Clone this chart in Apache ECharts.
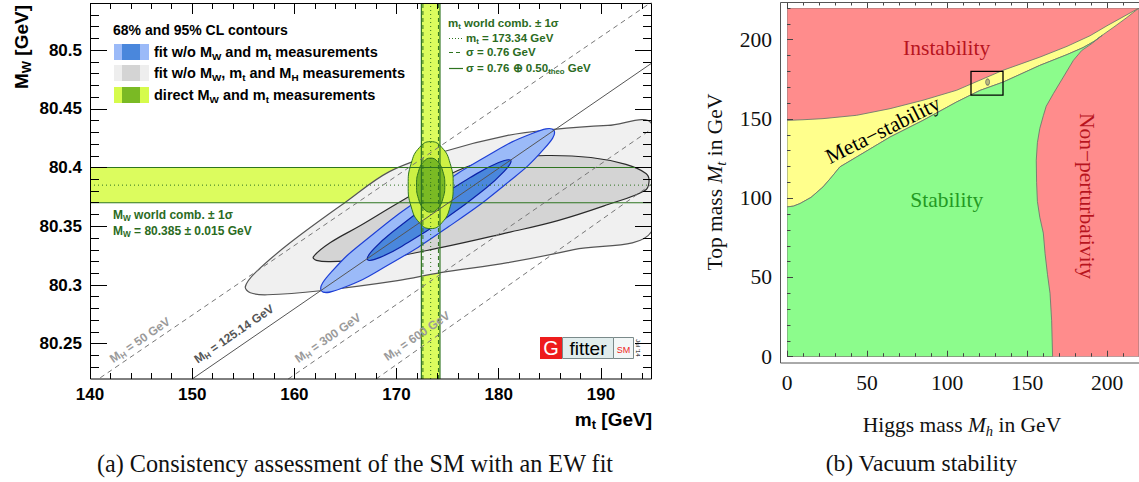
<!DOCTYPE html>
<html><head><meta charset="utf-8">
<script src="https://cdn.jsdelivr.net/npm/echarts@6/dist/echarts.min.js"></script>
<style>html,body{margin:0;padding:0;background:#fff;}#c{width:1139px;height:482px;}</style>
</head><body><div id="c"></div>
<script>
// ================= Panel (a): EW fit =================
const mtTickValues = [140, 150, 160, 170, 180, 190];
const mtMinorTickValues = [142,144,146,148,152,154,156,158,162,164,166,168,172,174,176,178,182,184,186,188,192,194];
const mwTickValues = [80.25, 80.3, 80.35, 80.4, 80.45, 80.5];
const mwMinorTickValues = [80.23,80.24,80.26,80.27,80.28,80.29,80.31,80.32,80.33,80.34,80.36,80.37,80.38,80.39,80.41,80.42,80.43,80.44,80.46,80.47,80.48,80.49,80.51,80.52,80.53];

const mwBandEdges = [80.370, 80.400];
const mwCentral = 80.385;
const mtBandEdgesTotal = [172.43, 174.25];
const mtBandEdgesExp = [172.58, 174.10];
const mtCentral = 173.34;

// 68%/95% CL contours (mt, MW)
const contourGrayOuter = [[155.20,80.2985],[156.18,80.3105],[159.61,80.3361],[165.00,80.3705],[169.30,80.3965],[174.31,80.4128],[180.88,80.4273],[185.39,80.4324],[190.69,80.4358],[195.0,80.4367],[195.0,80.3460],[187.35,80.3301],[180.88,80.3190],[174.31,80.3105],[170.10,80.3037],[162.55,80.2951],[157.35,80.2917],[155.69,80.2934]];
const contourGrayInner = [[161.86,80.3240],[163.53,80.3361],[166.47,80.3506],[169.90,80.3685],[173.33,80.3855],[177.25,80.4017],[181.18,80.4077],[184.61,80.4102],[189.02,80.4085],[192.45,80.4026],[194.41,80.3949],[194.71,80.3881],[194.31,80.3804],[190.69,80.3685],[185.78,80.3548],[180.88,80.3446],[174.31,80.3318],[168.43,80.3224],[163.53,80.3199],[162.16,80.3210]];
const contourBlueOuter = [[185.40,80.4316],[184.41,80.4156],[180.65,80.3856],[175.11,80.3497],[169.26,80.3174],[164.71,80.2974],[162.64,80.2951],[163.63,80.3111],[167.39,80.3411],[172.93,80.3770],[178.77,80.4093],[183.33,80.4292]];
const contourBlueInner = [[181.18,80.4060],[180.53,80.3967],[178.18,80.3785],[174.75,80.3564],[171.17,80.3363],[168.39,80.3235],[167.16,80.3216],[167.80,80.3309],[170.16,80.3490],[173.58,80.3711],[177.17,80.3912],[179.94,80.4040]];
const contourGreenOuter = [[175.54,80.385],[175.245,80.4035],[174.44,80.417],[173.34,80.422],[172.24,80.417],[171.435,80.4035],[171.14,80.385],[171.435,80.3665],[172.24,80.353],[173.34,80.348],[174.44,80.353],[175.245,80.3665]];
const contourGreenInner = [[174.72,80.385],[174.535,80.3965],[174.03,80.4049],[173.34,80.408],[172.65,80.4049],[172.145,80.3965],[171.96,80.385],[172.145,80.3735],[172.65,80.3651],[173.34,80.362],[174.03,80.3651],[174.535,80.3735]];

// SM prediction lines for fixed M_H
const isolineMH50  = [[141.0, 80.221], [195.0, 80.541]];
const isolineMH125 = [[150.0, 80.220], [195.0, 80.489]];
const isolineMH300 = [[159.4, 80.220], [195.0, 80.433]];
const isolineMH600 = [[168.0, 80.220], [195.0, 80.386]];

// ================= Panel (b): vacuum stability =================
const mhTickValues = [0, 50, 100, 150, 200];
const mhMinorTickValues = [10,20,30,40,60,70,80,90,110,120,130,140,160,170,180,190,210,220];
const mtopTickValues = [0, 50, 100, 150, 200];
const mtopMinorTickValues = [10,20,30,40,60,70,80,90,110,120,130,140,160,170,180,190,210,220];

const instabilityBoundary = [[0,149.1],[10,149.5],[22.5,150.2],[43.5,152.3],[64.4,156.5],[85,161.8],[106,168.1],[120,174.2],[135,180.7],[158,189.0],[175,195.8],[189.4,202.5],[200,208.8],[210,214.4],[220,220]];
const metaStabilityBoundary = [[0,94.5],[4,95.0],[8.1,96.6],[15,100.5],[22.5,107.1],[28,113.5],[33,119.7],[43.5,126.0],[64.4,138.6],[85,149.1],[106,160.7],[120.6,168.0],[135.2,173.3],[158,183.8],[175,190.6],[185,195.0],[192,199.0],[198,203.5],[205,208.5],[212,213.7],[220,220]];
const perturbativityBoundary = [[197,202.8],[190,197.2],[184.2,193.2],[179,187],[172.7,176.4],[166.5,166],[162,158],[160.2,152],[158,144],[156.5,135],[155.8,124],[156,110],[156.5,98],[158,88],[160.2,78],[161.3,65],[162.8,52],[164.4,40],[165.4,23],[166,0]];
const measuredPoint = [[125.4, 173.3]];
const zoomBox = [[115,165],[135,165],[135,180],[115,180]];
const plotRange = [[0,0],[220,0],[220,220],[0,220]];

// ---------------------------------------------------------------
const SANS = "'Liberation Sans', Arial, Helvetica, sans-serif";
const SERIF = "'Liberation Serif', 'Times New Roman', serif";

function rich(F, weight, fill, family) {
  const s = Math.round(F * 0.68 * 10) / 10;
  return {
    m: {fontFamily: family, fontSize: F, fontWeight: weight, fill: fill, color: fill, lineHeight: Math.round(F * 1.25)},
    s: {fontFamily: family, fontSize: s, fontWeight: weight, fill: fill, color: fill, lineHeight: s, verticalAlign: 'bottom'},
    i: {fontFamily: family, fontSize: F, fontWeight: weight, fontStyle: 'italic', fill: fill, color: fill, lineHeight: Math.round(F * 1.25)},
    is: {fontFamily: family, fontSize: s, fontWeight: weight, fontStyle: 'italic', fill: fill, color: fill, lineHeight: s, verticalAlign: 'bottom'}
  };
}
function txt(x, y, text, F, weight, fill, family, align, rot, z) {
  return {type: 'text', x: x, y: y, rotation: rot || 0, z: z || 50, silent: true,
    style: {text: text, rich: rich(F, weight, fill, family), fontFamily: family, fontSize: F, fontWeight: weight, fill: fill,
      align: align || 'left', verticalAlign: 'middle', textAlign: align || 'left', textVerticalAlign: 'middle'}};
}
function rect(x, y, w, h, fill, stroke, lw, z) {
  return {type: 'rect', z: z || 50, silent: true, shape: {x: x, y: y, width: w, height: h},
    style: {fill: fill || 'none', stroke: stroke || null, lineWidth: lw || 0}};
}
function seg(x1, y1, x2, y2, stroke, lw, dash, z) {
  return {type: 'line', z: z || 50, silent: true, shape: {x1: x1, y1: y1, x2: x2, y2: y2},
    style: {stroke: stroke, lineWidth: lw, lineDash: dash || null}};
}

function polySeries(points, xi, yi, fill, stroke, lw, smooth, z, dash) {
  return {
    type: 'custom', xAxisIndex: xi, yAxisIndex: yi, clip: true, silent: true, z: z, animation: false,
    data: [points[0]],
    renderItem: function (params, api) {
      return {type: 'polygon', shape: {points: points.map(function (p) { return api.coord(p); }), smooth: smooth || 0},
        style: {fill: fill, stroke: stroke, lineWidth: lw, lineDash: dash || null}};
    }
  };
}
function lineSeries(points, xi, yi, color, width, type, z) {
  return {type: 'line', xAxisIndex: xi, yAxisIndex: yi, data: points, showSymbol: false, symbol: 'none',
    silent: true, z: z, animation: false, clip: true, lineStyle: {color: color, width: width, type: type || 'solid'}};
}

function axis(gridIndex, position, min, max, ticks, len, color, extra) {
  return Object.assign({
    type: 'value', gridIndex: gridIndex, position: position, min: min, max: max, z: 20, silent: true,
    splitLine: {show: false}, axisLine: {show: false},
    axisTick: {show: true, inside: true, length: len, customValues: ticks, lineStyle: {color: color, width: 1}},
    axisLabel: {show: false}
  }, extra || {});
}

const labA = function (F) { return {show: true, fontFamily: SANS, fontWeight: 'bold', fontSize: F, color: '#000'}; };
const labB = {show: true, fontFamily: SERIF, fontSize: 21.5, color: '#111'};

const xAxes = [
  axis(0, 'bottom', 140, 195, mtTickValues, 11, '#000', {axisLabel: Object.assign(labA(17), {customValues: mtTickValues, margin: 7})}),
  axis(0, 'bottom', 140, 195, mtMinorTickValues, 6, '#000'),
  axis(0, 'top', 140, 195, mtTickValues, 11, '#000'),
  axis(0, 'top', 140, 195, mtMinorTickValues, 6, '#000'),
  axis(1, 'bottom', 0, 220, mhTickValues, 6, '#444', {offset: 6, axisLabel: Object.assign({}, labB, {customValues: mhTickValues, margin: 9})}),
  axis(1, 'bottom', 0, 220, mhMinorTickValues, 3.5, '#444', {offset: 6}),
  axis(1, 'top', 0, 220, mhTickValues, 6, '#444', {offset: 6}),
  axis(1, 'top', 0, 220, mhMinorTickValues, 3.5, '#444', {offset: 6})
];
const yAxes = [
  axis(0, 'left', 80.22, 80.54, mwTickValues, 17, '#000', {axisLabel: Object.assign(labA(17), {customValues: mwTickValues, margin: 8})}),
  axis(0, 'left', 80.22, 80.54, mwMinorTickValues, 9, '#000'),
  axis(0, 'right', 80.22, 80.54, mwTickValues, 17, '#000'),
  axis(0, 'right', 80.22, 80.54, mwMinorTickValues, 9, '#000'),
  axis(1, 'left', 0, 220, mtopTickValues, 6, '#444', {offset: 7, axisLabel: Object.assign({}, labB, {customValues: mtopTickValues, margin: 8})}),
  axis(1, 'left', 0, 220, mtopMinorTickValues, 3.5, '#444', {offset: 7})
];

// colours
const cBand = '#dcfc5e', cGreenOut = '#cdf144', cGreenIn = '#7aba24', cGreenLine = '#2e7420';
const cGrayOut = '#f0f0f0', cGrayIn = '#d4d4d4';
const cBlueOut = '#9bbaf8', cBlueIn = '#4a87dc';
const cTxtGreen = '#2b6b1e';

const series = [
  // bands
  polySeries([[140, mwBandEdges[0]], [195, mwBandEdges[0]], [195, mwBandEdges[1]], [140, mwBandEdges[1]]], 0, 0, cBand, null, 0, 0, 1),
  polySeries([[mtBandEdgesTotal[0], 80.22], [mtBandEdgesTotal[1], 80.22], [mtBandEdgesTotal[1], 80.54], [mtBandEdgesTotal[0], 80.54]], 0, 0, cBand, null, 0, 0, 1),
  // indirect-fit contours
  polySeries(contourGrayOuter, 0, 0, cGrayOut, '#555', 1.2, 0.35, 2),
  polySeries(contourGrayInner, 0, 0, cGrayIn, '#2a2a2a', 1.2, 0.4, 3),
  polySeries(contourBlueOuter, 0, 0, cBlueOut, '#1e3fd6', 1.2, 0.5, 4),
  polySeries(contourBlueInner, 0, 0, cBlueIn, '#0c22a8', 1.2, 0.5, 5),
  // direct measurements
  polySeries(contourGreenOuter, 0, 0, cGreenOut, cGreenLine, 1, 0.5, 6),
  polySeries(contourGreenInner, 0, 0, cGreenIn, cGreenLine, 1, 0.5, 7),
  // band lines
  lineSeries([[140, mwBandEdges[0]], [195, mwBandEdges[0]]], 0, 0, cGreenLine, 1.2, 'solid', 8),
  lineSeries([[140, mwBandEdges[1]], [195, mwBandEdges[1]]], 0, 0, cGreenLine, 1.2, 'solid', 8),
  lineSeries([[140, mwCentral], [195, mwCentral]], 0, 0, cGreenLine, 1, [1, 3], 8),
  lineSeries([[mtBandEdgesTotal[0], 80.22], [mtBandEdgesTotal[0], 80.54]], 0, 0, cGreenLine, 1.2, 'solid', 8),
  lineSeries([[mtBandEdgesTotal[1], 80.22], [mtBandEdgesTotal[1], 80.54]], 0, 0, cGreenLine, 1.2, 'solid', 8),
  lineSeries([[mtBandEdgesExp[0], 80.22], [mtBandEdgesExp[0], 80.54]], 0, 0, cGreenLine, 1, [4, 3], 8),
  lineSeries([[mtBandEdgesExp[1], 80.22], [mtBandEdgesExp[1], 80.54]], 0, 0, cGreenLine, 1, [4, 3], 8),
  lineSeries([[mtCentral, 80.22], [mtCentral, 80.54]], 0, 0, cGreenLine, 1, [1, 3], 8),
  // M_H isolines
  lineSeries(isolineMH50, 0, 0, '#777', 1, [5, 4], 9),
  lineSeries(isolineMH125, 0, 0, '#555', 1, 'solid', 9),
  lineSeries(isolineMH300, 0, 0, '#777', 1, [5, 4], 9),
  lineSeries(isolineMH600, 0, 0, '#777', 1, [5, 4], 9),

  // ---- panel (b) ----
  polySeries(plotRange, 4, 4, '#ff8c8c', '#777', 0.8, 0, 2),
  polySeries(instabilityBoundary.concat(metaStabilityBoundary.slice().reverse()), 4, 4, '#ffff8c', '#6e7a6e', 0.9, 0, 3),
  polySeries([[0, 0]].concat(metaStabilityBoundary.filter(function (p) { return p[0] <= 192; }), perturbativityBoundary), 4, 4, '#8cfc8c', '#6e7a6e', 0.9, 0, 4),
  polySeries(zoomBox, 4, 4, 'none', '#000', 1.3, 0, 6),
  {type: 'scatter', xAxisIndex: 4, yAxisIndex: 4, data: measuredPoint, symbol: 'circle', symbolSize: [4, 6], silent: true, z: 7, animation: false,
    itemStyle: {color: '#a8a878', borderColor: '#666', borderWidth: 1}}
];

const gEls = [
  // frames
  rect(90.5, 3.5, 561, 375.5, 'none', '#000', 1, 40),
  rect(780.5, 2.5, 370, 360.5, 'none', '#555', 1, 40),
  // legend panel (a)
  txt(113, 30, '{m|68% and 95% CL contours}', 14, 'bold', '#000', SANS),
  rect(114, 44, 35, 16, cBlueOut), rect(122, 44, 18, 16, cBlueIn),
  rect(114, 65, 35, 16, '#eeeeee'), rect(122, 65, 18, 16, cGrayIn),
  rect(114, 87, 35, 16, '#d6fb4c'), rect(122, 87, 18, 16, cGreenIn),
  txt(154, 52, '{m|fit w/o M}{s|W}{m| and m}{s|t}{m| measurements}', 14.5, 'bold', '#000', SANS),
  txt(154, 73, '{m|fit w/o M}{s|W}{m|, m}{s|t}{m| and M}{s|H}{m| measurements}', 14.5, 'bold', '#000', SANS),
  txt(154, 95, '{m|direct M}{s|W}{m| and m}{s|t}{m| measurements}', 14.5, 'bold', '#000', SANS),
  // mt world average legend
  txt(448, 23, '{m|m}{s|t}{m| world comb. \u00b1 1\u03c3}', 11.5, 'bold', cTxtGreen, SANS),
  seg(449, 38.5, 463, 38.5, cGreenLine, 1, [1, 2]),
  txt(466, 38, '{m|m}{s|t}{m| = 173.34 GeV}', 11.5, 'bold', cTxtGreen, SANS),
  seg(449, 52.5, 463, 52.5, cGreenLine, 1, [4, 3]),
  txt(466, 52, '{m|\u03c3 = 0.76 GeV}', 11.5, 'bold', cTxtGreen, SANS),
  seg(449, 68.5, 463, 68.5, cGreenLine, 1.2),
  txt(466, 68, '{m|\u03c3 = 0.76 \u2295 0.50}{s|theo}{m| GeV}', 11.5, 'bold', cTxtGreen, SANS),
  // MW world average legend
  txt(113, 215, '{m|M}{s|W}{m| world comb. \u00b1 1\u03c3}', 12, 'bold', cTxtGreen, SANS),
  txt(113, 231, '{m|M}{s|W}{m| = 80.385 \u00b1 0.015 GeV}', 12, 'bold', cTxtGreen, SANS),
  // isoline labels
  txt(140, 340, '{m|M}{s|H}{m| = 50 GeV}', 12, 'bold', '#9a9a9a', SANS, 'center', 0.604),
  txt(234, 334, '{m|M}{s|H}{m| = 125.14 GeV}', 12, 'bold', '#555', SANS, 'center', 0.604),
  txt(328, 338, '{m|M}{s|H}{m| = 300 GeV}', 12, 'bold', '#9a9a9a', SANS, 'center', 0.604),
  txt(417, 336, '{m|M}{s|H}{m| = 600 GeV}', 12, 'bold', '#9a9a9a', SANS, 'center', 0.604),
  // axis titles (a)
  txt(21, 47, '{m|M}{s|W}{m| [GeV]}', 19, 'bold', '#000', SANS, 'center', Math.PI / 2),
  txt(652, 419, '{m|m}{s|t}{m| [GeV]}', 19, 'bold', '#000', SANS, 'right'),
  // Gfitter logo
  rect(540, 337, 22, 22, '#ee1c1c', null, 0, 45),
  txt(551, 348, '{m|G}', 20, 'normal', '#fff', SANS, 'center', 0, 46),
  rect(562.5, 337.5, 51, 21, '#e1eded', '#7a8a8a', 1, 45),
  txt(588, 348, '{m|fitter}', 19, 'normal', '#000', SANS, 'center', 0, 46),
  rect(613.5, 337.5, 20, 21, '#f3f7f7', '#7a8a8a', 1, 45),
  txt(623.5, 350, '{m|SM}', 9, 'normal', '#ee1c1c', SANS, 'center', 0, 46),
  txt(638, 348, '{m|Jul \u201914}', 6, 'normal', '#000', SANS, 'center', -Math.PI / 2, 46),
  // panel (b) texts
  txt(946.7, 48.3, '{m|Instability}', 21.5, 'normal', '#b8141e', SERIF, 'center'),
  txt(946.7, 200, '{m|Stability}', 21.5, 'normal', '#239a23', SERIF, 'center'),
  txt(883, 130, '{m|Meta\u2212stability}', 21.5, 'normal', '#000', SERIF, 'center', 0.464),
  txt(1086.7, 196, '{m|Non\u2212perturbativity}', 21.5, 'normal', '#b8141e', SERIF, 'center', -Math.PI / 2),
  txt(715, 182, '{m|Top mass }{i|M}{is|t}{m| in GeV}', 21.5, 'normal', '#111', SERIF, 'center', Math.PI / 2),
  txt(962, 425, '{m|Higgs mass }{i|M}{is|h}{m| in GeV}', 21.5, 'normal', '#111', SERIF, 'center'),
  // captions
  txt(355, 463, '{m|(a) Consistency assessment of the SM with an EW fit}', 24.2, 'normal', '#111', SERIF, 'center'),
  txt(921.5, 463, '{m|(b) Vacuum stability}', 23.5, 'normal', '#111', SERIF, 'center')
];

const chart = echarts.init(document.getElementById('c'), null, {renderer: 'svg', width: 1139, height: 482});
chart.setOption({
  animation: false,
  backgroundColor: '#fff',
  grid: [
    {left: 90, top: 3, width: 562, height: 376, outerBoundsMode: 'none', containLabel: false},
    {left: 787, top: 8, width: 352, height: 348.7, outerBoundsMode: 'none', containLabel: false}
  ],
  xAxis: xAxes,
  yAxis: yAxes,
  series: series,
  graphic: {elements: gEls}
});
</script></body></html>
